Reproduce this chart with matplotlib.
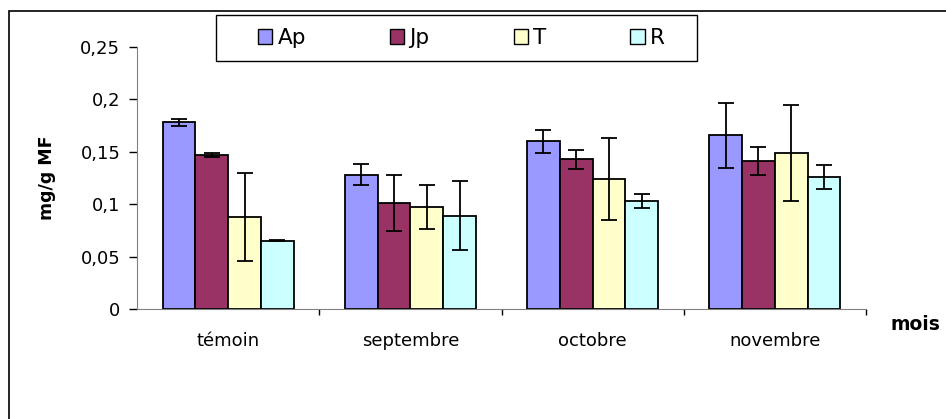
import numpy as np
import matplotlib
matplotlib.use('Agg')
import matplotlib.pyplot as plt
from matplotlib.patches import Rectangle

plt.rcParams['font.family'] = ['DejaVu Sans']

# data
mois = ['témoin', 'septembre', 'octobre', 'novembre']
series = ['Ap', 'Jp', 'T', 'R']
Ap = [0.178, 0.128, 0.160, 0.166]
Jp = [0.147, 0.101, 0.143, 0.141]
T = [0.088, 0.097, 0.124, 0.149]
R = [0.065, 0.089, 0.103, 0.126]
Ap_err = [0.003, 0.010, 0.011, 0.031]
Jp_err = [0.002, 0.027, 0.009, 0.0135]
T_err = [0.042, 0.021, 0.039, 0.046]
R_err = [0.0005, 0.033, 0.007, 0.0115]
yticks = [0, 0.05, 0.1, 0.15, 0.2, 0.25]
ytick_labels = ['0', '0,05', '0,1', '0,15', '0,2', '0,25']

colors = ['#9999FF', '#993366', '#FFFFCC', '#CCFFFF']
values = [Ap, Jp, T, R]
errors = [Ap_err, Jp_err, T_err, R_err]

fig = plt.figure(figsize=(9.46, 4.19), dpi=100)
ax = fig.add_axes([137 / 946, 1 - 309 / 419, 729 / 946, 262 / 419])

x = np.arange(len(mois))
w = 0.18
for i, (name, vals, errs, c) in enumerate(zip(series, values, errors, colors)):
    ax.bar(x + (i - 1.5) * w, vals, w, color=c, edgecolor='black', linewidth=1.3,
           label=name, zorder=2)
    ax.errorbar(x + (i - 1.5) * w, vals, yerr=errs, fmt='none', ecolor='black',
                elinewidth=1.3, capsize=5.5, capthick=1.3, zorder=3)

ax.set_xlim(-0.5, 3.5)
ax.set_ylim(0, 0.25)
ax.set_yticks(yticks)
ax.set_yticklabels(ytick_labels, fontsize=13)
ax.set_xticks([0.5, 1.5, 2.5, 3.5])
ax.set_xticklabels([])
ax.set_xticks(x, minor=True)
ax.set_xticklabels(mois, minor=True, fontsize=13)
ax.tick_params(axis='x', which='minor', length=0, pad=16.5)
ax.tick_params(axis='x', which='major', direction='out', length=4.5, color='black', width=1)
ax.tick_params(axis='y', direction='out', length=6, color='black', width=1, pad=6)

for s in ['top', 'right']:
    ax.spines[s].set_visible(False)
ax.spines['left'].set_color('#808080')
ax.spines['bottom'].set_color('#808080')

fig.text(47 / 946, 1 - 178 / 419, 'mg/g MF', rotation=90, fontsize=12.5,
         fontweight='bold', ha='center', va='center')
fig.text(915 / 946, 1 - 324 / 419, 'mois', fontsize=13.5, fontweight='bold',
         ha='center', va='center')

# legend entries spread across the box, frame drawn separately
leg = fig.legend(loc='center left', ncol=4, mode='expand',
                 bbox_to_anchor=(258 / 946, 1 - 38 / 419, 407 / 946, 0),
                 fontsize=15.5, handlelength=0.66, handleheight=0.66,
                 handletextpad=0.25, borderaxespad=0, borderpad=0,
                 frameon=False)
for h in leg.legend_handles:
    h.set_linewidth(1.0)
fig.patches.append(Rectangle((216 / 946, 1 - 61 / 419), 481 / 946, 46 / 419,
                             transform=fig.transFigure, fill=False,
                             edgecolor='black', linewidth=1.0))

# outer chart-area border (only top and left visible in the reference)
fig.patches.append(Rectangle((9 / 946, -0.1), 1.2, 1.1 - 11 / 419,
                             transform=fig.transFigure, fill=False,
                             edgecolor='black', linewidth=1.2, clip_on=False))

fig.savefig('out.png', dpi=100)
